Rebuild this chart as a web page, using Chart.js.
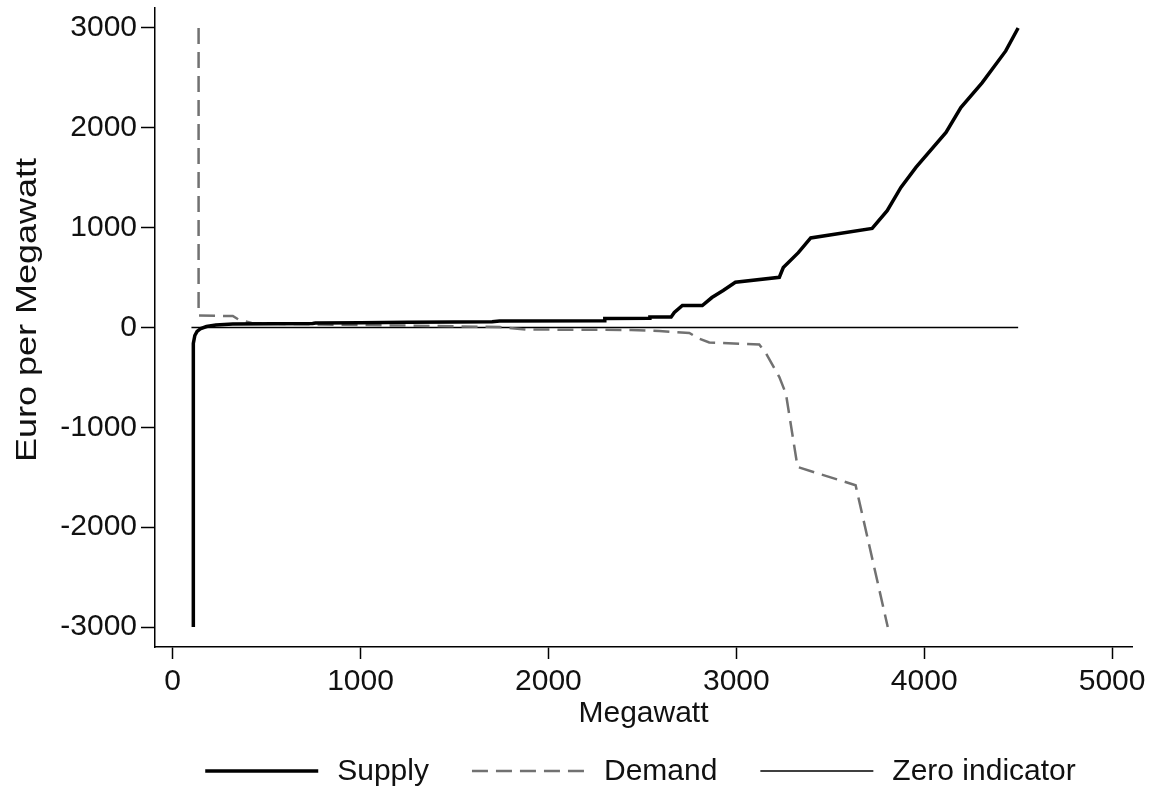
<!DOCTYPE html>
<html>
<head>
<meta charset="utf-8">
<script src="https://cdn.jsdelivr.net/npm/chart.js@4/dist/chart.umd.min.js"></script>
<style>
    html, body { margin: 0; padding: 0; background: #fff; }
    #wrap { width: 1149px; height: 788px; }
</style>
</head>
<body>
<div id="wrap"><canvas id="curveChart" width="1149" height="788"></canvas></div>
<script>
// Supply curve (Megawatt, Euro per Megawatt)
const supplyMW  = [110, 110, 118, 130, 150, 180, 230, 320, 745, 760, 1000, 1250, 1500, 1700, 1740, 2298, 2300, 2537, 2540, 2653, 2670, 2713, 2819, 2870, 2930, 2995, 3229, 3250, 3330, 3396, 3723, 3803, 3876, 3956, 4116, 4195, 4309, 4434, 4500];
const supplyEUR = [-3000, -160, -80, -40, -10, 10, 25, 35, 40, 45, 48, 52, 55, 58, 66, 68, 90, 92, 105, 105, 150, 220, 220, 300, 370, 453, 503, 600, 750, 897, 993, 1170, 1403, 1603, 1953, 2203, 2453, 2770, 3000];

// Demand curve
const demandMW  = [138, 138, 320, 350, 420, 600, 1000, 1400, 1739, 1880, 2440, 2590, 2750, 2800, 2856, 3122, 3158, 3229, 3264, 3326, 3635, 3806];
const demandEUR = [3000, 120, 115, 80, 45, 35, 25, 15, 5, -20, -25, -35, -55, -110, -150, -170, -260, -497, -663, -1397, -1580, -3000];

// Zero indicator
const zeroMW  = [100, 4500];
const zeroEUR = [0, 0];

const xTicks = [0, 1000, 2000, 3000, 4000, 5000];
const yTicks = [-3000, -2000, -1000, 0, 1000, 2000, 3000];

const yTitle = 'Euro per Megawatt';

const FONT = '"Liberation Sans", Arial, sans-serif';

const toPoints = (xs, ys) => xs.map((x, i) => ({ x: x, y: ys[i] }));

// keep the plot box where the reference has it, labels may overhang
const noOverhang = (s) => {
    s.paddingLeft = 0;
    s.paddingRight = 0;
    s.paddingTop = 0;
    s.paddingBottom = 0;
};

// y title (stretched like the original) and legend under the axis
const extras = {
    id: 'extras',
    afterDraw(chart) {
        const { ctx, chartArea } = chart;
        const sets = chart.data.datasets;

        ctx.save();
        ctx.fillStyle = '#111';
        ctx.font = '30px ' + FONT;
        ctx.textAlign = 'center';
        ctx.textBaseline = 'middle';
        ctx.translate(28, 310);
        ctx.rotate(-Math.PI / 2);
        ctx.scale(1.2, 1);
        ctx.fillText(yTitle, 0, 0);
        ctx.restore();

        const lineLen = 113, textGap = 19, itemGap = 43, y = 771;
        ctx.save();
        ctx.font = '30px ' + FONT;
        const widths = sets.map(d => lineLen + textGap + ctx.measureText(d.label).width);
        const total = widths.reduce((a, b) => a + b, 0) + itemGap * (sets.length - 1);
        let x = (chartArea.left + chartArea.right) / 2 - total / 2 - 3;

        sets.forEach((d, i) => {
            ctx.beginPath();
            ctx.setLineDash(d.borderDash || []);
            ctx.lineWidth = d.borderWidth;
            ctx.strokeStyle = d.borderColor;
            ctx.moveTo(x, y);
            ctx.lineTo(x + lineLen, y);
            ctx.stroke();

            ctx.setLineDash([]);
            ctx.fillStyle = '#111';
            ctx.textBaseline = 'middle';
            ctx.textAlign = 'left';
            ctx.fillText(d.label, x + lineLen + textGap, y + 1);
            x += widths[i] + itemGap;
        });
        ctx.restore();
    }
};

new Chart(document.getElementById('curveChart'), {
    type: 'line',
    data: {
        datasets: [
            {
                label: 'Supply',
                data: toPoints(supplyMW, supplyEUR),
                borderColor: '#000',
                borderWidth: 3.5,
                pointRadius: 0,
                tension: 0
            },
            {
                label: 'Demand',
                data: toPoints(demandMW, demandEUR),
                borderColor: '#717171',
                borderWidth: 2.5,
                borderDash: [16, 8],
                pointRadius: 0,
                tension: 0
            },
            {
                label: 'Zero indicator',
                data: toPoints(zeroMW, zeroEUR),
                borderColor: '#000',
                borderWidth: 1.5,
                pointRadius: 0,
                tension: 0
            }
        ]
    },
    options: {
        responsive: false,
        animation: false,
        layout: { padding: { top: 8, right: 17, bottom: 56, left: 0 } },
        plugins: {
            legend: { display: false },
            tooltip: { enabled: false }
        },
        scales: {
            x: {
                type: 'linear',
                min: -94,
                max: 5106,
                afterBuildTicks: (s) => { s.ticks = xTicks.map(v => ({ value: v })); },
                afterFit: (s) => { s.height = 85; noOverhang(s); },
                grid: { drawOnChartArea: false, tickLength: 12, tickColor: '#000', tickWidth: 1.5 },
                border: { color: '#000', width: 1.5 },
                ticks: {
                    color: '#111',
                    padding: 5,
                    maxRotation: 0,
                    font: { family: FONT, size: 30 },
                    callback: (v) => String(v)
                },
                title: {
                    display: true,
                    text: 'Megawatt',
                    color: '#111',
                    font: { family: FONT, size: 30 },
                    padding: { top: 0, bottom: 0 }
                }
            },
            y: {
                min: -3200,
                max: 3200,
                afterBuildTicks: (s) => { s.ticks = yTicks.map(v => ({ value: v })); },
                afterFit: (s) => { s.width = 155; noOverhang(s); },
                grid: { drawOnChartArea: false, tickLength: 14, tickColor: '#000', tickWidth: 1.5 },
                border: { color: '#000', width: 1.5 },
                ticks: {
                    color: '#111',
                    padding: 4,
                    font: { family: FONT, size: 30 },
                    callback: (v) => String(v)
                }
            }
        }
    },
    plugins: [extras]
});
</script>
</body>
</html>
